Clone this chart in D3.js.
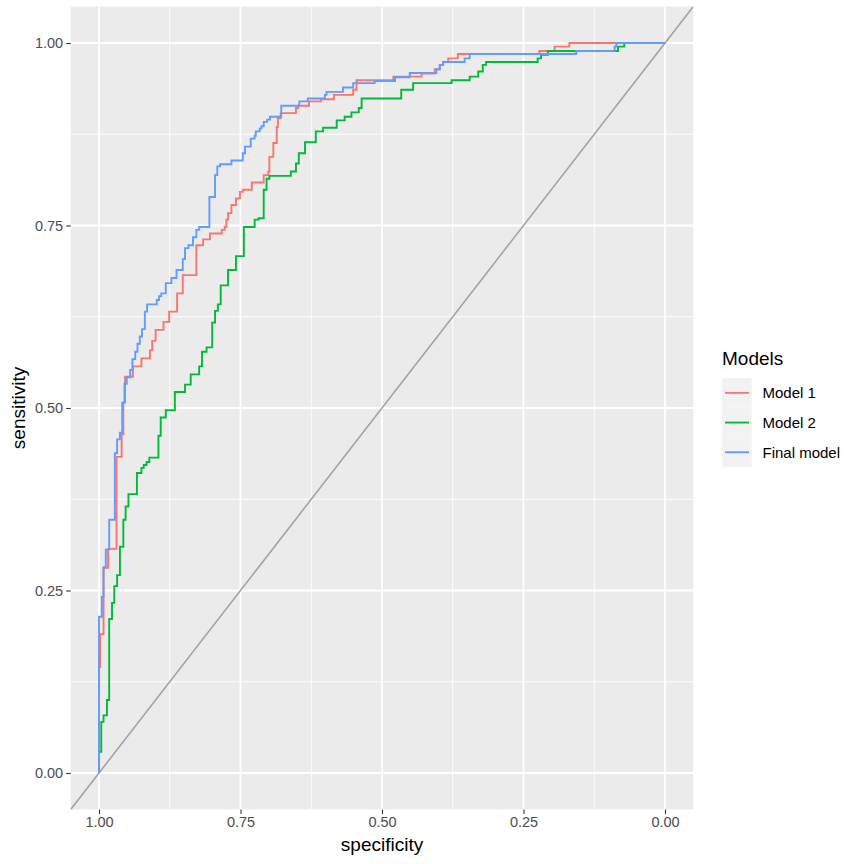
<!DOCTYPE html>
<html>
<head>
<meta charset="utf-8">
<script src="https://d3js.org/d3.v7.min.js"></script>
<style>
  body { margin: 0; background: #fff; }
  text { font-family: "Liberation Sans", Arial, sans-serif; }
</style>
</head>
<body>
<div id="chart-area"></div>
<script>
// ROC curves - three models, step paths

var modelNames = ["Model 1", "Model 2", "Final model"];
var modelColors = ["#F8766D", "#00BA38", "#619CFF"];

var model1Spec = [1, 1, 0.998, 0.992, 0.984, 0.969, 0.960, 0.957, 0.954, 0.940, 0.925, 0.910, 0.906, 0.900, 0.886, 0.876, 0.862, 0.852, 0.828, 0.816, 0.804, 0.783, 0.778, 0.775, 0.772, 0.766, 0.758, 0.751, 0.746, 0.730, 0.709, 0.701, 0.699, 0.692, 0.686, 0.684, 0.679, 0.652, 0.648, 0.629, 0.608, 0.585, 0.551, 0.545, 0.480, 0.430, 0.407, 0.398, 0.392, 0.383, 0.366, 0.222, 0.195, 0.169, 0];
var model1Sens = [0, 0.145, 0.190, 0.281, 0.307, 0.433, 0.464, 0.508, 0.543, 0.557, 0.568, 0.579, 0.592, 0.607, 0.618, 0.632, 0.657, 0.682, 0.723, 0.731, 0.739, 0.744, 0.748, 0.758, 0.767, 0.778, 0.787, 0.796, 0.799, 0.809, 0.819, 0.824, 0.844, 0.863, 0.885, 0.897, 0.904, 0.911, 0.914, 0.920, 0.923, 0.929, 0.936, 0.949, 0.954, 0.958, 0.964, 0.970, 0.974, 0.979, 0.985, 0.989, 0.995, 1, 1];

var model2Spec = [1, 1, 0.996, 0.992, 0.986, 0.982, 0.977, 0.973, 0.968, 0.963, 0.957, 0.953, 0.948, 0.933, 0.925, 0.921, 0.916, 0.911, 0.895, 0.891, 0.882, 0.866, 0.848, 0.838, 0.823, 0.818, 0.810, 0.800, 0.795, 0.790, 0.785, 0.772, 0.758, 0.744, 0.725, 0.718, 0.709, 0.704, 0.699, 0.661, 0.652, 0.647, 0.636, 0.617, 0.604, 0.580, 0.566, 0.554, 0.541, 0.536, 0.466, 0.445, 0.377, 0.345, 0.330, 0.322, 0.316, 0.225, 0.219, 0.207, 0.083, 0.072, 0];
var model2Sens = [0, 0.029, 0.070, 0.079, 0.100, 0.211, 0.233, 0.256, 0.271, 0.310, 0.347, 0.365, 0.382, 0.411, 0.418, 0.422, 0.426, 0.432, 0.462, 0.487, 0.497, 0.522, 0.532, 0.546, 0.557, 0.577, 0.583, 0.617, 0.633, 0.642, 0.668, 0.689, 0.708, 0.748, 0.758, 0.760, 0.799, 0.814, 0.818, 0.824, 0.835, 0.849, 0.864, 0.879, 0.884, 0.894, 0.899, 0.905, 0.911, 0.924, 0.936, 0.945, 0.949, 0.954, 0.961, 0.970, 0.974, 0.979, 0.984, 0.989, 0.995, 1, 1];

var finalSpec = [1, 1, 0.995, 0.992, 0.988, 0.982, 0.972, 0.968, 0.963, 0.959, 0.955, 0.951, 0.945, 0.941, 0.936, 0.932, 0.928, 0.924, 0.919, 0.915, 0.898, 0.894, 0.890, 0.882, 0.872, 0.863, 0.852, 0.848, 0.842, 0.834, 0.828, 0.823, 0.805, 0.795, 0.791, 0.786, 0.766, 0.746, 0.742, 0.732, 0.725, 0.723, 0.716, 0.713, 0.709, 0.703, 0.698, 0.678, 0.646, 0.631, 0.601, 0.598, 0.569, 0.551, 0.513, 0.477, 0.451, 0.404, 0.398, 0.392, 0.354, 0.345, 0.157, 0.089, 0.086, 0];
var finalSens = [0, 0.214, 0.241, 0.282, 0.306, 0.347, 0.438, 0.457, 0.466, 0.507, 0.533, 0.542, 0.552, 0.567, 0.577, 0.588, 0.598, 0.608, 0.632, 0.642, 0.648, 0.653, 0.657, 0.671, 0.678, 0.689, 0.704, 0.719, 0.723, 0.734, 0.744, 0.748, 0.789, 0.819, 0.831, 0.834, 0.839, 0.849, 0.858, 0.869, 0.873, 0.879, 0.883, 0.886, 0.892, 0.895, 0.899, 0.914, 0.920, 0.924, 0.929, 0.933, 0.939, 0.945, 0.948, 0.953, 0.959, 0.964, 0.970, 0.974, 0.979, 0.985, 0.989, 0.995, 1, 1];

var majorTicks = [0, 0.25, 0.5, 0.75, 1];
var minorTicks = [0.125, 0.375, 0.625, 0.875];
var tickLabels = ["0.00", "0.25", "0.50", "0.75", "1.00"];

var series = [
  {name: modelNames[0], color: modelColors[0], spec: model1Spec, sens: model1Sens},
  {name: modelNames[1], color: modelColors[1], spec: model2Spec, sens: model2Sens},
  {name: modelNames[2], color: modelColors[2], spec: finalSpec, sens: finalSens}
];

var W = 850, H = 864;
var margin = {left: 70.7, right: 156.7, top: 6.5, bottom: 54.5};
var width = W - margin.left - margin.right;
var height = H - margin.top - margin.bottom;

var svg = d3.select("#chart-area").append("svg")
    .attr("width", W)
    .attr("height", H);

var g = svg.append("g")
    .attr("transform", "translate(" + margin.left + "," + margin.top + ")");

// reversed specificity axis, 5% expansion like ggplot
var x = d3.scaleLinear().domain([1.05, -0.05]).range([0, width]);
var y = d3.scaleLinear().domain([-0.05, 1.05]).range([height, 0]);

g.append("rect")
    .attr("width", width)
    .attr("height", height)
    .attr("fill", "#EBEBEB");

// grid
g.selectAll(".minor-x").data(minorTicks).enter().append("line")
    .attr("x1", d => x(d)).attr("x2", d => x(d))
    .attr("y1", 0).attr("y2", height)
    .attr("stroke", "#fff").attr("stroke-width", 0.9);
g.selectAll(".minor-y").data(minorTicks).enter().append("line")
    .attr("y1", d => y(d)).attr("y2", d => y(d))
    .attr("x1", 0).attr("x2", width)
    .attr("stroke", "#fff").attr("stroke-width", 0.9);
g.selectAll(".major-x").data(majorTicks).enter().append("line")
    .attr("x1", d => x(d)).attr("x2", d => x(d))
    .attr("y1", 0).attr("y2", height)
    .attr("stroke", "#fff").attr("stroke-width", 1.8);
g.selectAll(".major-y").data(majorTicks).enter().append("line")
    .attr("y1", d => y(d)).attr("y2", d => y(d))
    .attr("x1", 0).attr("x2", width)
    .attr("stroke", "#fff").attr("stroke-width", 1.8);

g.append("clipPath").attr("id", "panel-clip")
  .append("rect").attr("width", width).attr("height", height);

// chance diagonal
g.append("line")
    .attr("clip-path", "url(#panel-clip)")
    .attr("x1", x(1.1)).attr("y1", y(-0.1))
    .attr("x2", x(-0.1)).attr("y2", y(1.1))
    .attr("stroke", "#A3A3A3")
    .attr("stroke-width", 1.6);

var line = d3.line()
    .x(d => x(d[0]))
    .y(d => y(d[1]))
    .curve(d3.curveStepAfter);

g.selectAll(".roc").data(series).enter().append("path")
    .attr("class", "roc")
    .attr("d", s => line(s.spec.map((v, i) => [v, s.sens[i]])))
    .attr("fill", "none")
    .attr("stroke", s => s.color)
    .attr("stroke-width", 1.9);

// axes
var xAxisCall = d3.axisBottom(x)
    .tickValues(majorTicks)
    .tickFormat((d, i) => tickLabels[i])
    .tickSize(4.5)
    .tickPadding(3);
var xAxis = g.append("g")
    .attr("transform", "translate(0," + height + ")")
    .call(xAxisCall);

var yAxisCall = d3.axisLeft(y)
    .tickValues(majorTicks)
    .tickFormat((d, i) => tickLabels[i])
    .tickSize(4.5)
    .tickPadding(3);
var yAxis = g.append("g").call(yAxisCall);

[xAxis, yAxis].forEach(function(a) {
  a.select(".domain").remove();
  a.selectAll(".tick line").attr("stroke", "#333333").attr("stroke-width", 1.1);
  a.selectAll(".tick text")
      .attr("fill", "#4D4D4D")
      .attr("font-size", "14.5px")
      .attr("font-family", "'Liberation Sans', Arial, sans-serif");
});

// axis labels
svg.append("text")
    .attr("x", margin.left + width / 2)
    .attr("y", 851)
    .attr("font-size", "19px")
    .attr("text-anchor", "middle")
    .attr("fill", "#000")
    .text("specificity");

svg.append("text")
    .attr("transform", "rotate(-90)")
    .attr("x", -(margin.top + height / 2))
    .attr("y", 25)
    .attr("font-size", "19px")
    .attr("text-anchor", "middle")
    .attr("fill", "#000")
    .text("sensitivity");

// legend
var legend = svg.append("g")
    .attr("transform", "translate(722,378)");

legend.append("text")
    .attr("x", 0)
    .attr("y", -13)
    .attr("font-size", "19px")
    .attr("fill", "#000")
    .text("Models");

var keys = legend.selectAll(".key").data(series).enter().append("g")
    .attr("transform", (d, i) => "translate(0," + (i * 29.7) + ")");

keys.append("rect")
    .attr("width", 29.7)
    .attr("height", 29.7)
    .attr("fill", "#F2F2F2");

keys.append("line")
    .attr("x1", 3).attr("x2", 27)
    .attr("y1", 14.85).attr("y2", 14.85)
    .attr("stroke", d => d.color)
    .attr("stroke-width", 1.9);

keys.append("text")
    .attr("x", 40.5)
    .attr("y", 20.3)
    .attr("font-size", "15px")
    .attr("fill", "#000")
    .text(d => d.name);
</script>
</body>
</html>
